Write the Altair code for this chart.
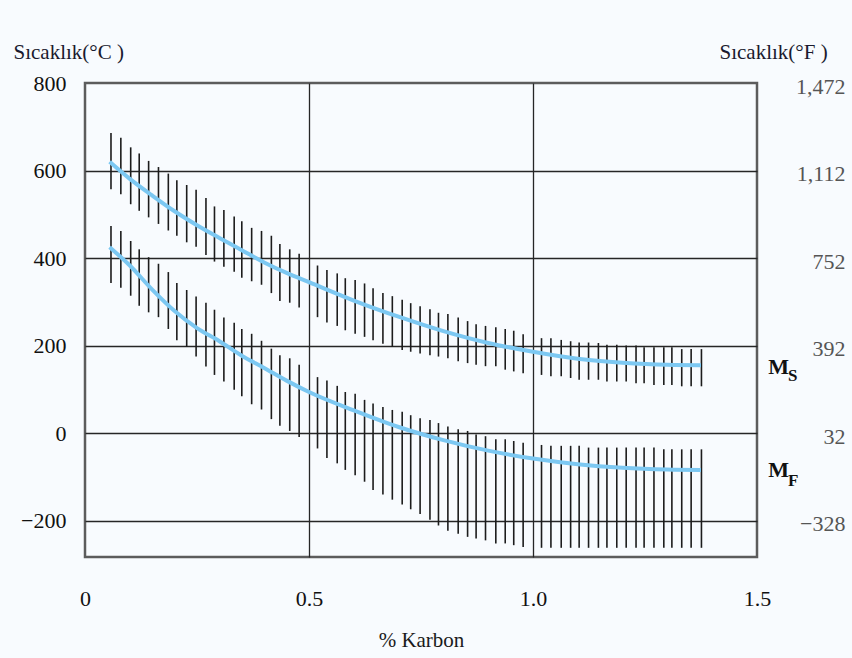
import altair as alt
import pandas as pd

# ---- data ----
BAR_X = [0.058, 0.080, 0.102, 0.121, 0.142, 0.164, 0.186, 0.205, 0.227, 0.248,
         0.270, 0.289, 0.310, 0.333, 0.350, 0.372, 0.394, 0.416, 0.435, 0.457,
         0.478,
         0.519, 0.540, 0.563, 0.581, 0.603, 0.624, 0.643, 0.665, 0.686, 0.708,
         0.727, 0.748, 0.770, 0.789, 0.810, 0.833, 0.854, 0.873, 0.894, 0.917,
         0.938, 0.957, 0.978,
         1.019, 1.040, 1.063, 1.084, 1.103, 1.124, 1.146, 1.165, 1.187, 1.208,
         1.230, 1.248, 1.270, 1.292, 1.310, 1.332, 1.353, 1.376]

MS_HI = [686, 675, 653, 639, 622, 608, 593, 578, 567, 556, 537, 518, 510, 495, 484, 469, 462, 451, 432, 420, 410,
         383, 373, 365, 354, 350, 342, 331, 320, 313, 305, 297, 290, 283, 275, 272, 264, 256, 249, 245, 242, 238, 234, 226,
         217, 217, 213, 210, 207, 207, 206, 202, 202, 200, 200, 196, 196, 196, 196, 192, 192, 192]
MS_LO = [557, 546, 523, 508, 493, 478, 463, 451, 436, 426, 407, 392, 380, 369, 355, 347, 339, 320, 302, 298, 287,
         265, 253, 245, 235, 227, 220, 212, 204, 197, 190, 186, 182, 178, 175, 171, 164, 160, 156, 153, 153, 145, 141, 137,
         133, 130, 130, 126, 122, 122, 122, 118, 118, 118, 114, 114, 110, 110, 110, 107, 107, 107]
MF_HI = [473, 462, 439, 420, 402, 387, 368, 343, 327, 312, 298, 282, 264, 252, 238, 227, 211, 193, 178, 171, 156,
         128, 120, 108, 94, 90, 76, 68, 60, 53, 49, 41, 34, 30, 23, 15, 9, 5, -3, -7, -14, -14, -18, -22,
         -27, -29, -29, -29, -29, -33, -33, -33, -33, -33, -33, -33, -33, -37, -37, -37, -37, -37]
MF_LO = [343, 332, 314, 291, 276, 265, 238, 212, 197, 175, 152, 133, 118, 99, 84, 66, 54, 32, 17, 5, -9,
         -35, -57, -69, -84, -96, -111, -130, -140, -152, -163, -174, -185, -198, -211, -223, -230, -237, -241, -245, -252, -252, -256, -260,
         -262, -262, -262, -262, -262, -262, -262, -262, -262, -262, -262, -262, -262, -262, -262, -262, -262, -262]

LINE_X = [0.055, 0.1, 0.15, 0.2, 0.25, 0.3, 0.35, 0.4, 0.45, 0.5, 0.6, 0.7, 0.8, 0.9, 1.0, 1.1, 1.2, 1.3, 1.375]
MS_LINE = [620, 581, 543, 507, 475, 446, 418, 390, 366, 345, 303, 266, 233, 206, 186, 170, 161, 156, 155]
MF_LINE = [425, 383, 328, 279, 240, 210, 177, 149, 120, 94, 52, 14, -16, -40, -58, -71, -79, -83, -84]

C_TICKS = [800, 600, 400, 200, 0, -200]
C_LABELS = ["800", "600", "400", "200", "0", "−200"]
F_LABELS = ["1,472", "1,112", "752", "392", "32", "−328"]
X_TICKS = [0, 0.5, 1.0, 1.5]
X_LABELS = ["0", "0.5", "1.0", "1.5"]

ANN_TEXT = ["M", "S", "M", "F"]
ANN_X = [1.525, 1.569, 1.525, 1.569]
ANN_Y = [135, 119, -101, -121]
ANN_KIND = ["main", "sub", "main", "sub"]

# ---- tables ----
bars = pd.DataFrame({
    "x": BAR_X * 2,
    "lo": MS_LO + MF_LO,
    "hi": MS_HI + MF_HI,
    "s": ["MS"] * len(BAR_X) + ["MF"] * len(BAR_X),
})
lines = pd.DataFrame({
    "x": LINE_X * 2,
    "y": MS_LINE + MF_LINE,
    "s": ["MS"] * len(LINE_X) + ["MF"] * len(LINE_X),
})
ann = pd.DataFrame({"t": ANN_TEXT, "x": ANN_X, "y": ANN_Y, "k": ANN_KIND})
ticks_df = pd.DataFrame({"c": C_TICKS})


def label_expr(ticks, labels):
    expr = "''"
    for t, l in reversed(list(zip(ticks, labels))):
        expr = f"datum.value == {t} ? '{l}' : ({expr})"
    return expr


FONT = "Liberation Serif, Times New Roman, serif"
GRID = "#262626"
LBL = 22
TTL = 21

xscale = alt.Scale(domain=[0, 1.5], nice=False, zero=False)
yscale = alt.Scale(domain=[-283, 800], nice=False, zero=False)

xaxis = alt.Axis(
    values=X_TICKS, labelExpr=label_expr(X_TICKS, X_LABELS),
    title="% Karbon", titleFont=FONT, titleFontSize=TTL, titleFontWeight="normal",
    titleColor="#1a1a1a", titleBaseline="middle", titleY=83,
    labelFont=FONT, labelFontSize=LBL, labelColor="#111111",
    labelPadding=41, labelBaseline="middle", labelFlush=False,
    ticks=False, tickSize=0, domain=False, grid=True,
    gridColor=alt.condition("datum.value == 0 || datum.value == 1.5",
                            alt.value("transparent"), alt.value(GRID)),
    gridWidth=1.3,
)
yaxis = alt.Axis(
    values=C_TICKS, labelExpr=label_expr(C_TICKS, C_LABELS),
    title="Sıcaklık(°C )", titleFont=FONT, titleFontSize=TTL, titleFontWeight="normal",
    titleColor="#1a1a2e", titleAngle=0, titleAlign="left", titleBaseline="alphabetic",
    titleX=-72, titleY=-25,
    labelFont=FONT, labelFontSize=LBL, labelColor="#111111",
    labelPadding=19, labelBaseline="middle", labelFlush=False,
    ticks=False, tickSize=0, domain=False, grid=True,
    gridColor=alt.condition("datum.value == 800",
                            alt.value("transparent"), alt.value(GRID)),
    gridWidth=1.3,
)
raxis = alt.Axis(
    orient="right", values=C_TICKS, labelExpr=label_expr(C_TICKS, F_LABELS),
    title="Sıcaklık(°F )", titleFont=FONT, titleFontSize=TTL, titleFontWeight="normal",
    titleColor="#1a1a2e", titleAngle=0, titleAlign="left", titleBaseline="alphabetic",
    titleX=-38, titleY=-25,
    labelFont=FONT, labelFontSize=LBL, labelColor="#555555",
    labelAlign="right", labelPadding=88, labelBaseline="middle", labelOffset=3,
    labelFlush=False, ticks=False, tickSize=0, domain=False, grid=False,
)

bar_layer = alt.Chart(bars).mark_rule(color="#1c1c1c", strokeWidth=1.6).encode(
    x=alt.X("x:Q", scale=xscale, axis=xaxis),
    y=alt.Y("lo:Q", scale=yscale, axis=yaxis),
    y2="hi:Q",
    detail="s:N",
)
line_layer = alt.Chart(lines).mark_line(
    color="#7cc8f2", strokeWidth=4, interpolate="monotone"
).encode(
    x=alt.X("x:Q", scale=xscale, axis=xaxis),
    y=alt.Y("y:Q", scale=yscale, axis=yaxis),
    detail="s:N",
)
main_txt = alt.Chart(ann).transform_filter("datum.k == 'main'").mark_text(
    font=FONT, fontSize=22, fontWeight="bold", color="#111111",
    align="left", baseline="alphabetic",
).encode(
    x=alt.X("x:Q", scale=xscale, axis=xaxis),
    y=alt.Y("y:Q", scale=yscale, axis=yaxis),
    text="t:N",
)
sub_txt = alt.Chart(ann).transform_filter("datum.k == 'sub'").mark_text(
    font=FONT, fontSize=17, fontWeight="bold", color="#111111",
    align="left", baseline="alphabetic",
).encode(
    x=alt.X("x:Q", scale=xscale, axis=xaxis),
    y=alt.Y("y:Q", scale=yscale, axis=yaxis),
    text="t:N",
)
inner = alt.layer(bar_layer, line_layer, main_txt, sub_txt)

right_layer = alt.Chart(ticks_df).mark_point(opacity=0).encode(
    y=alt.Y("c:Q", scale=yscale, axis=raxis),
)

chart = alt.layer(inner, right_layer).resolve_scale(y="independent").properties(
    width=672, height=474,
    autosize=alt.AutoSizeParams(type="none"),
    padding={"left": 85, "top": 83, "right": 95, "bottom": 101},
    background="#f8fbfe",
).configure_view(stroke="#5c5c5c", strokeWidth=2.5, fill="#f8fbfe")

chart.save("out.html", embed_options={"renderer": "svg", "actions": False})
